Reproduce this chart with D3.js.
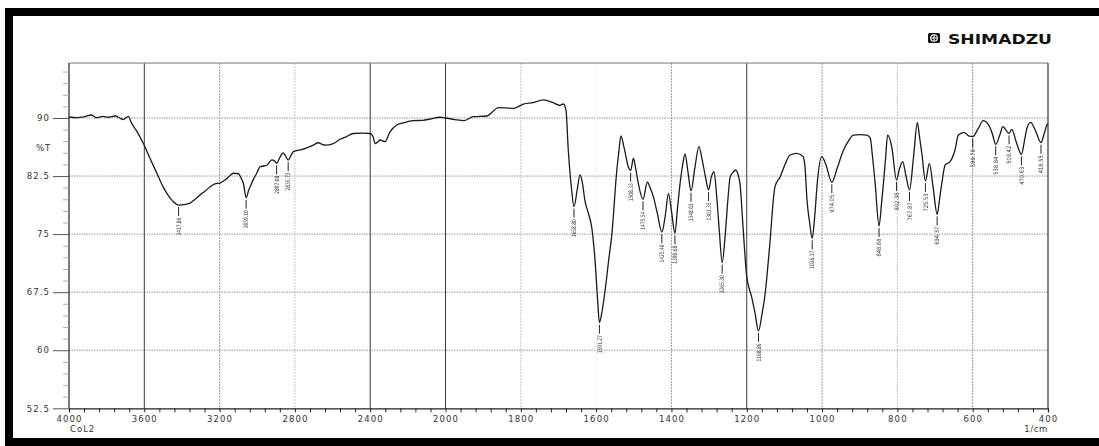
<!DOCTYPE html>
<html>
<head>
<meta charset="utf-8">
<script src="https://cdn.jsdelivr.net/npm/d3@7"></script>
<style>
  body { margin: 0; background: #fff; }
  svg { display: block; }
</style>
</head>
<body>
<svg id="chart" width="1099" height="446"></svg>
<script>
// FTIR spectrum: wavenumber (1/cm) and transmittance (%T)
const wavenumbers = [
  4000, 3960, 3920, 3880, 3856, 3820, 3790, 3755, 3730, 3713, 3685, 3667, 3640, 3605, 3570,
  3534, 3500, 3481, 3450, 3417.86, 3380, 3357, 3330, 3304, 3275, 3251, 3225, 3198, 3160, 3127,
  3100, 3085, 3074, 3059.10, 3045, 3038, 3020, 3003, 2985, 2965, 2950, 2935, 2923, 2910, 2897.08,
  2880, 2862, 2850, 2835.73, 2820, 2808, 2773, 2740, 2702, 2676, 2655, 2640, 2596, 2560, 2525,
  2490, 2440, 2401, 2385, 2374, 2360, 2348, 2321, 2295, 2259, 2220, 2171, 2120, 2082, 2029,
  2000, 1975, 1952, 1926, 1890, 1875, 1860, 1840, 1820, 1793, 1767, 1740, 1714, 1696, 1687,
  1680, 1674, 1665, 1658.80, 1650, 1643, 1636, 1630, 1620, 1612, 1603, 1596, 1591.27, 1585, 1576,
  1567, 1558, 1545, 1540, 1534, 1525, 1514, 1508.33, 1501, 1495, 1488, 1475.54, 1464, 1455, 1448,
  1438, 1425.40, 1416, 1408, 1400, 1390.68, 1384, 1377, 1370, 1364, 1356, 1348.01, 1338, 1327, 1318,
  1310, 1301.35, 1294, 1287, 1280, 1273, 1265.30, 1257, 1250, 1244, 1236, 1229, 1222, 1218, 1210,
  1200, 1187, 1178, 1168.86, 1160, 1151, 1140, 1125, 1111, 1100, 1085, 1067, 1050, 1045, 1040,
  1033, 1026.17, 1020, 1012, 1001, 990, 974.05, 960, 943, 930, 917, 900, 881, 872, 866,
  859, 848.68, 842, 837, 831, 826, 815, 802.38, 794, 786, 777, 767.87, 757, 747, 741,
  735, 725.53, 715, 705, 694.37, 688, 682, 673, 660, 647, 638, 623, 611, 599.79, 585,
  572, 558, 548, 538.84, 528, 520, 503.42, 496, 485, 470.63, 462, 456, 446, 434, 418.55,
  410, 403, 400
];
const transmittance = [
  90.13, 90.05, 90.15, 90.39, 90.04, 90.2, 90.1, 90.26, 90.0, 89.8, 90.2, 89.3, 88.3, 86.7, 84.8,
  82.9, 81.1, 80.3, 79.3, 78.75, 78.85, 79.0, 79.5, 80.05, 80.6, 81.1, 81.5, 81.6, 82.2, 82.86,
  82.8, 82.2, 81.6, 79.7, 80.7, 81.1, 82.1, 82.86, 83.7, 83.8, 83.9, 84.3, 84.6, 84.5, 84.15,
  84.9, 85.5, 85.1, 84.57, 85.2, 85.65, 85.87, 86.1, 86.5, 86.8, 86.6, 86.5, 86.7, 87.25, 87.6,
  88.0, 88.05, 88.0, 87.6, 86.7, 86.9, 87.16, 86.94, 88.2, 89.1, 89.4, 89.65, 89.7, 89.87, 90.1,
  90.0, 89.8, 89.65, 90.17, 90.26, 90.8, 91.33, 91.3, 91.25, 91.8, 91.98, 92.33, 91.98, 91.64, 91.81,
  91.0, 85.9, 80.7, 78.54, 80.8, 82.64, 81.5, 79.4, 77.6, 75.96, 71.66, 66.5, 63.56, 64.8, 67.78,
  71.5, 75.1, 83.28, 85.5, 87.68, 86.0, 83.6, 83.19, 84.8, 83.5, 81.56, 79.5, 81.7, 80.8, 79.84,
  77.8, 75.27, 77.5, 80.27, 78.0, 75.1, 78.3, 81.56, 84.0, 85.35, 83.0, 80.6, 83.5, 86.3, 84.5,
  82.5, 80.7, 82.4, 83.06, 80.0, 75.5, 71.31, 75.0, 79.5, 82.42, 83.0, 83.28, 82.5, 81.56, 76.0,
  69.5, 66.9, 64.8, 62.49, 64.5, 67.36, 73.0, 81.13, 82.42, 83.8, 85.22, 85.44, 85.0, 83.5, 79.4,
  76.5, 74.46, 77.0, 82.0, 85.0, 84.0, 81.69, 83.5, 85.87, 87.0, 87.8, 87.85, 87.8, 87.4, 85.0,
  81.56, 76.05, 79.0, 81.56, 85.0, 87.8, 86.3, 82.0, 83.5, 84.36, 82.5, 80.7, 85.0, 89.39, 87.5,
  85.44, 81.86, 84.15, 81.0, 77.56, 79.5, 81.56, 83.93, 84.36, 85.87, 87.8, 88.15, 87.68, 87.59, 88.67,
  89.65, 89.1, 88.0, 86.6, 87.8, 88.88, 88.02, 88.54, 87.0, 85.31, 87.2, 88.67, 89.44, 88.45, 86.81,
  88.0, 89.1, 89.3
];

// Annotated peak positions (1/cm)
const peakWavenumbers = [
  3417.86, 3059.10, 2897.08, 2835.73, 1658.80, 1591.27, 1508.33, 1475.54, 1425.40, 1390.68,
  1348.01, 1301.35, 1265.30, 1168.86, 1026.17, 974.05, 848.68, 802.38, 767.87, 725.53,
  694.37, 599.79, 538.84, 503.42, 470.63, 418.55
];

// Axis tick values
const xMajorTicks = [4000, 3600, 3200, 2800, 2400, 2000, 1800, 1600, 1400, 1200, 1000, 800, 600, 400];
const yMajorTicks = [52.5, 60, 67.5, 75, 82.5, 90];
const yTickLabels = ["52.5", "60", "67.5", "75", "82.5", "90"];

const svg = d3.select("#chart");

// Scale: 4000-2000 compressed, 2000-400 expanded (two-range wavenumber axis)
const x = d3.scaleLinear().domain([4000, 2000, 400]).range([69, 445.5, 1048]);
const y = d3.scaleLinear().domain([52.5, 90]).range([408.3, 118]);
const yTop = 97.1;
const plotLeft = x(4000), plotRight = x(400), plotTop = y(yTop), plotBottom = y(52.5);

// outer frame
svg.append("rect")
  .attr("x", 9).attr("y", 12).attr("width", 1200).attr("height", 430)
  .attr("fill", "none").attr("stroke", "#000").attr("stroke-width", 8);

// horizontal grid
const hGrid = svg.append("g");
yMajorTicks.filter(v => v > 52.5).forEach(v => {
  hGrid.append("line")
    .attr("x1", plotLeft).attr("x2", plotRight).attr("y1", y(v)).attr("y2", y(v))
    .attr("stroke", "#9a9a9a").attr("stroke-width", 1).attr("stroke-dasharray", "1.5,1");
});

// vertical grid
const strongGrid = new Set([3600, 2400, 2000, 1200]);
const midGrid = new Set([3200, 1400, 1000, 600]);
const vGrid = svg.append("g");
xMajorTicks.filter(v => v < 4000 && v > 400).forEach(v => {
  const strong = strongGrid.has(v), mid = midGrid.has(v);
  vGrid.append("line")
    .attr("x1", x(v)).attr("x2", x(v)).attr("y1", plotTop).attr("y2", plotBottom)
    .attr("stroke", strong ? "#3a3a3a" : mid ? "#9a9a9a" : (v === 1600 ? "#f0f0f0" : "#c4c4c4"))
    .attr("stroke-width", 1)
    .attr("stroke-dasharray", strong ? null : "2,1");
});

// plot frame
svg.append("line").attr("x1", plotLeft).attr("x2", plotRight).attr("y1", plotTop).attr("y2", plotTop)
  .attr("stroke", "#777").attr("stroke-width", 1);
svg.append("line").attr("x1", plotRight).attr("x2", plotRight).attr("y1", plotTop).attr("y2", plotBottom)
  .attr("stroke", "#333").attr("stroke-width", 1.2);
svg.append("line").attr("x1", plotLeft).attr("x2", plotLeft).attr("y1", plotTop).attr("y2", plotBottom)
  .attr("stroke", "#222").attr("stroke-width", 1.2);

// x axis
const xMinor = [];
for (let v = 4000 - 80; v > 2000; v -= 80) if (v % 400 !== 0) xMinor.push(v);
for (let v = 2000 - 40; v > 400; v -= 40) if (v % 200 !== 0) xMinor.push(v);

const xAxis = svg.append("g").attr("transform", `translate(0,${plotBottom})`)
  .call(d3.axisBottom(x).tickValues(xMajorTicks).tickSize(4).tickPadding(4).tickFormat(d3.format("d")));
xAxis.select(".domain").attr("stroke", "#222").attr("stroke-width", 1.2);
xAxis.selectAll(".tick line").attr("stroke", "#222");
xAxis.selectAll(".tick text")
  .attr("font-family", "DejaVu Sans, sans-serif").attr("font-size", 8.5)
  .attr("letter-spacing", 1.1).attr("fill", "#333");

const xAxisMinor = svg.append("g").attr("transform", `translate(0,${plotBottom})`)
  .call(d3.axisBottom(x).tickValues(xMinor).tickSize(4).tickFormat(""));
xAxisMinor.select(".domain").remove();
xAxisMinor.selectAll(".tick line").attr("stroke", "#222");

// y axis
const yMinor = [];
for (let v = 52.5; v <= yTop; v += 1.5) if (!yMajorTicks.some(m => Math.abs(m - v) < 1e-6)) yMinor.push(v);

const yAxis = svg.append("g").attr("transform", `translate(${plotLeft},0)`)
  .call(d3.axisLeft(y).tickValues(yMajorTicks).tickSize(16).tickPadding(3)
    .tickFormat((d, i) => yTickLabels[i]));
yAxis.select(".domain").remove();
yAxis.selectAll(".tick line").attr("stroke", "#555");
yAxis.selectAll(".tick text")
  .attr("font-family", "DejaVu Sans, sans-serif").attr("font-size", 8.5)
  .attr("letter-spacing", 1.1).attr("fill", "#333");

const yAxisMinor = svg.append("g").attr("transform", `translate(${plotLeft},0)`)
  .call(d3.axisLeft(y).tickValues(yMinor).tickSize(6).tickFormat(""));
yAxisMinor.select(".domain").remove();
yAxisMinor.selectAll(".tick line").attr("stroke", "#aaa");

// axis titles
const titleFont = { family: "DejaVu Sans, sans-serif", size: 8.5 };
svg.append("text").attr("x", 36).attr("y", 151).text("%T")
  .attr("font-family", titleFont.family).attr("font-size", titleFont.size)
  .attr("letter-spacing", 1).attr("fill", "#333");
svg.append("text").attr("x", 70).attr("y", 432).text("CoL2")
  .attr("font-family", titleFont.family).attr("font-size", titleFont.size)
  .attr("letter-spacing", 1).attr("fill", "#333");
svg.append("text").attr("x", 1048).attr("y", 432).attr("text-anchor", "end").text("1/cm")
  .attr("font-family", titleFont.family).attr("font-size", titleFont.size)
  .attr("letter-spacing", 0.6).attr("fill", "#333");

// spectrum trace
const points = wavenumbers.map((w, i) => [w, transmittance[i]]);
svg.append("path")
  .datum(points)
  .attr("fill", "none")
  .attr("stroke", "#1a1a1a")
  .attr("stroke-width", 1.3)
  .attr("stroke-linejoin", "round")
  .attr("d", d3.line().x(d => x(d[0])).y(d => y(d[1])).curve(d3.curveMonotoneX));

// peak annotations (group opacity keeps the small rotated text in plain grey antialiasing)
const peaks = svg.append("g").attr("opacity", 0.99);
peakWavenumbers.forEach(w => {
  const idx = wavenumbers.indexOf(w);
  const t = transmittance[idx];
  const px = x(w), py = y(t);
  peaks.append("line")
    .attr("x1", px).attr("x2", px).attr("y1", py + 2).attr("y2", py + 11)
    .attr("stroke", "#222").attr("stroke-width", 1);
  peaks.append("text")
    .attr("transform", `translate(${px + 2.2},${py + 12.5}) rotate(-90)`)
    .attr("text-anchor", "end")
    .attr("font-family", "DejaVu Sans Condensed, DejaVu Sans, sans-serif")
    .attr("font-size", 6)
    .attr("textLength", 18).attr("lengthAdjust", "spacingAndGlyphs")
    .attr("fill", "#333")
    .text(w.toFixed(2));
});

// maker logo
const logo = svg.append("g").attr("transform", "translate(928,33)");
logo.append("rect").attr("width", 12).attr("height", 10).attr("rx", 1.5).attr("fill", "#111");
logo.append("circle").attr("cx", 6).attr("cy", 5).attr("r", 3.3)
  .attr("fill", "none").attr("stroke", "#fff").attr("stroke-width", 1.1);
logo.append("line").attr("x1", 2.7).attr("x2", 9.3).attr("y1", 5).attr("y2", 5)
  .attr("stroke", "#fff").attr("stroke-width", 1);
logo.append("line").attr("x1", 6).attr("x2", 6).attr("y1", 1.7).attr("y2", 8.3)
  .attr("stroke", "#fff").attr("stroke-width", 1);
svg.append("text").attr("x", 948).attr("y", 43.5).text("SHIMADZU")
  .attr("font-family", "DejaVu Sans, sans-serif").attr("font-weight", "bold")
  .attr("font-size", 13.5).attr("textLength", 104).attr("lengthAdjust", "spacingAndGlyphs")
  .attr("fill", "#111");
</script>
</body>
</html>
